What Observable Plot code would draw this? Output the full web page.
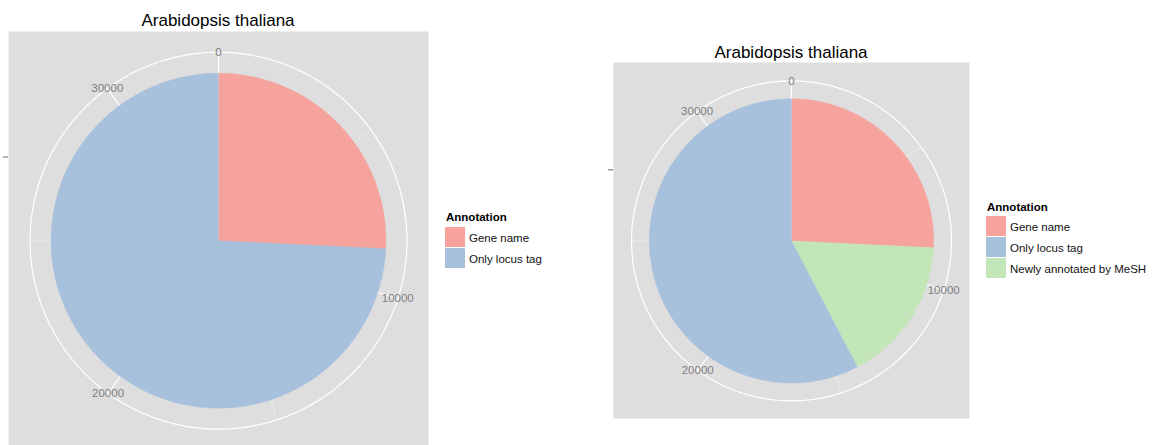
<!DOCTYPE html>
<html><head><meta charset="utf-8">
<script src="https://cdn.jsdelivr.net/npm/d3@7"></script>
<script src="https://cdn.jsdelivr.net/npm/@observablehq/plot@0.6"></script>
<style>
body{margin:0;background:#fff;font-family:"Liberation Sans",Arial,sans-serif;}
#root{position:relative;width:1153px;height:445px;overflow:hidden;}
.abs{position:absolute;}
.title{font-size:17px;line-height:17px;color:#000;white-space:nowrap;transform:translateX(-50%);}
.ltitle{font-size:11.5px;font-weight:bold;line-height:12px;white-space:nowrap;color:#000;}
.key{width:20px;height:20px;}
.lab{font-size:11.5px;line-height:20px;white-space:nowrap;color:#111;}
</style></head><body><div id="root"></div>
<script>
const chartTitle = "Arabidopsis thaliana";
const legendTitle = "Annotation";
const categories = ["Gene name", "Only locus tag", "Newly annotated by MeSH"];
const categoryColors = ["#F6A39E", "#A7C0DC", "#C3E6B9"];
const leftSlices = ["Gene name", "Only locus tag"];
const leftCounts = [8590, 24760];
const rightSlices = ["Gene name", "Newly annotated by MeSH", "Only locus tag"];
const rightCounts = [8590, 5530, 19230];
const leftLegend = ["Gene name", "Only locus tag"];
const rightLegend = ["Gene name", "Only locus tag", "Newly annotated by MeSH"];
const majorTicks = [0, 10000, 20000, 30000];
const minorTicks = [5000, 15000, 25000];

const root = document.getElementById("root");
const colorOf = d3.scaleOrdinal(categories, categoryColors);

function addDiv(cls, x, y, text, extra) {
  const d = document.createElement("div");
  d.className = "abs " + cls;
  d.style.left = x + "px";
  d.style.top = y + "px";
  if (text != null) d.textContent = text;
  if (extra) Object.assign(d.style, extra);
  root.appendChild(d);
  return d;
}

function panel(cfg, slices, counts, legendCats, lg) {
  const R = cfg.R, rO = 1.125;
  const total = d3.sum(counts);
  const ang = v => v / total * 2 * Math.PI;
  const px = (r, v) => r * Math.sin(ang(v));
  const py = (r, v) => r * Math.cos(ang(v));
  const cum = d3.cumsum(counts);
  const poly = [];
  slices.forEach((s, i) => {
    const a0 = i ? cum[i - 1] : 0, a1 = cum[i];
    const n = Math.max(2, Math.ceil((a1 - a0) / total * 720));
    poly.push({cat: s, x: 0, y: 0});
    for (let k = 0; k <= n; k++) {
      const v = a0 + (a1 - a0) * k / n;
      poly.push({cat: s, x: px(1, v), y: py(1, v)});
    }
    poly.push({cat: s, x: 0, y: 0});
  });
  const ring = d3.range(0, 721).map(k => ({x: px(rO, total * k / 720), y: py(rO, total * k / 720)}));

  const svg = Plot.plot({
    width: cfg.w, height: cfg.h,
    marginLeft: cfg.ml, marginRight: 0, marginTop: 0, marginBottom: 0,
    style: {fontFamily: "Liberation Sans, Arial, sans-serif", background: "transparent", overflow: "visible"},
    x: {domain: [(cfg.left + cfg.ml - cfg.cx) / R, (cfg.left + cfg.w - cfg.cx) / R], axis: null},
    y: {domain: [(cfg.cy - (cfg.top + cfg.h)) / R, (cfg.cy - cfg.top) / R], axis: null},
    color: {domain: categories, range: categoryColors},
    marks: [
      Plot.frame({fill: "#DEDEDE", stroke: "none"}),
      Plot.link(minorTicks, {x1: 0, y1: 0, x2: v => px(rO, v), y2: v => py(rO, v), stroke: "#F4F4F4", strokeWidth: 0.6}),
      Plot.link(majorTicks, {x1: 0, y1: 0, x2: v => px(rO, v), y2: v => py(rO, v), stroke: "#FFFFFF", strokeWidth: 1.2}),
      Plot.line(ring, {x: "x", y: "y", stroke: "#FFFFFF", strokeWidth: 1.2}),
      Plot.line(poly, {x: "x", y: "y", z: "cat", fill: "cat", stroke: "cat", strokeWidth: 0.3}),
      Plot.text(majorTicks, {x: v => px(rO, v), y: v => py(rO, v), text: d => String(d),
        fill: "#7F7F7F", fontSize: 11.5, textAnchor: "middle", lineAnchor: "middle"}),
      Plot.axisY({ticks: [0.5], tickFormat: () => "", tickSize: 5, stroke: "#7F7F7F", strokeWidth: 1.2, label: null})
    ]
  });
  svg.style.position = "absolute";
  svg.style.left = cfg.left + "px";
  svg.style.top = cfg.top + "px";
  root.appendChild(svg);

  addDiv("title", cfg.cx, cfg.titleBase - 14, chartTitle);
  addDiv("ltitle", lg.titleX, lg.titleBase - 10, legendTitle);
  legendCats.forEach((c, i) => {
    const y = lg.keyY + i * 21;
    addDiv("key", lg.keyX, y, null, {background: colorOf(c)});
    addDiv("lab", lg.labX, y + 1, c);
  });
}

panel({left: 0, top: 31, w: 428, h: 414, ml: 8, cx: 218, cy: 240.2, R: 167.5, titleBase: 26},
  leftSlices, leftCounts, leftLegend,
  {titleX: 446, titleBase: 221, keyX: 445, keyY: 226.5, labX: 469});
panel({left: 600, top: 62, w: 369, h: 356, ml: 13, cx: 791, cy: 240.4, R: 142.2, titleBase: 58},
  rightSlices, rightCounts, rightLegend,
  {titleX: 987, titleBase: 211, keyX: 986, keyY: 216, labX: 1010});
</script></body></html>
